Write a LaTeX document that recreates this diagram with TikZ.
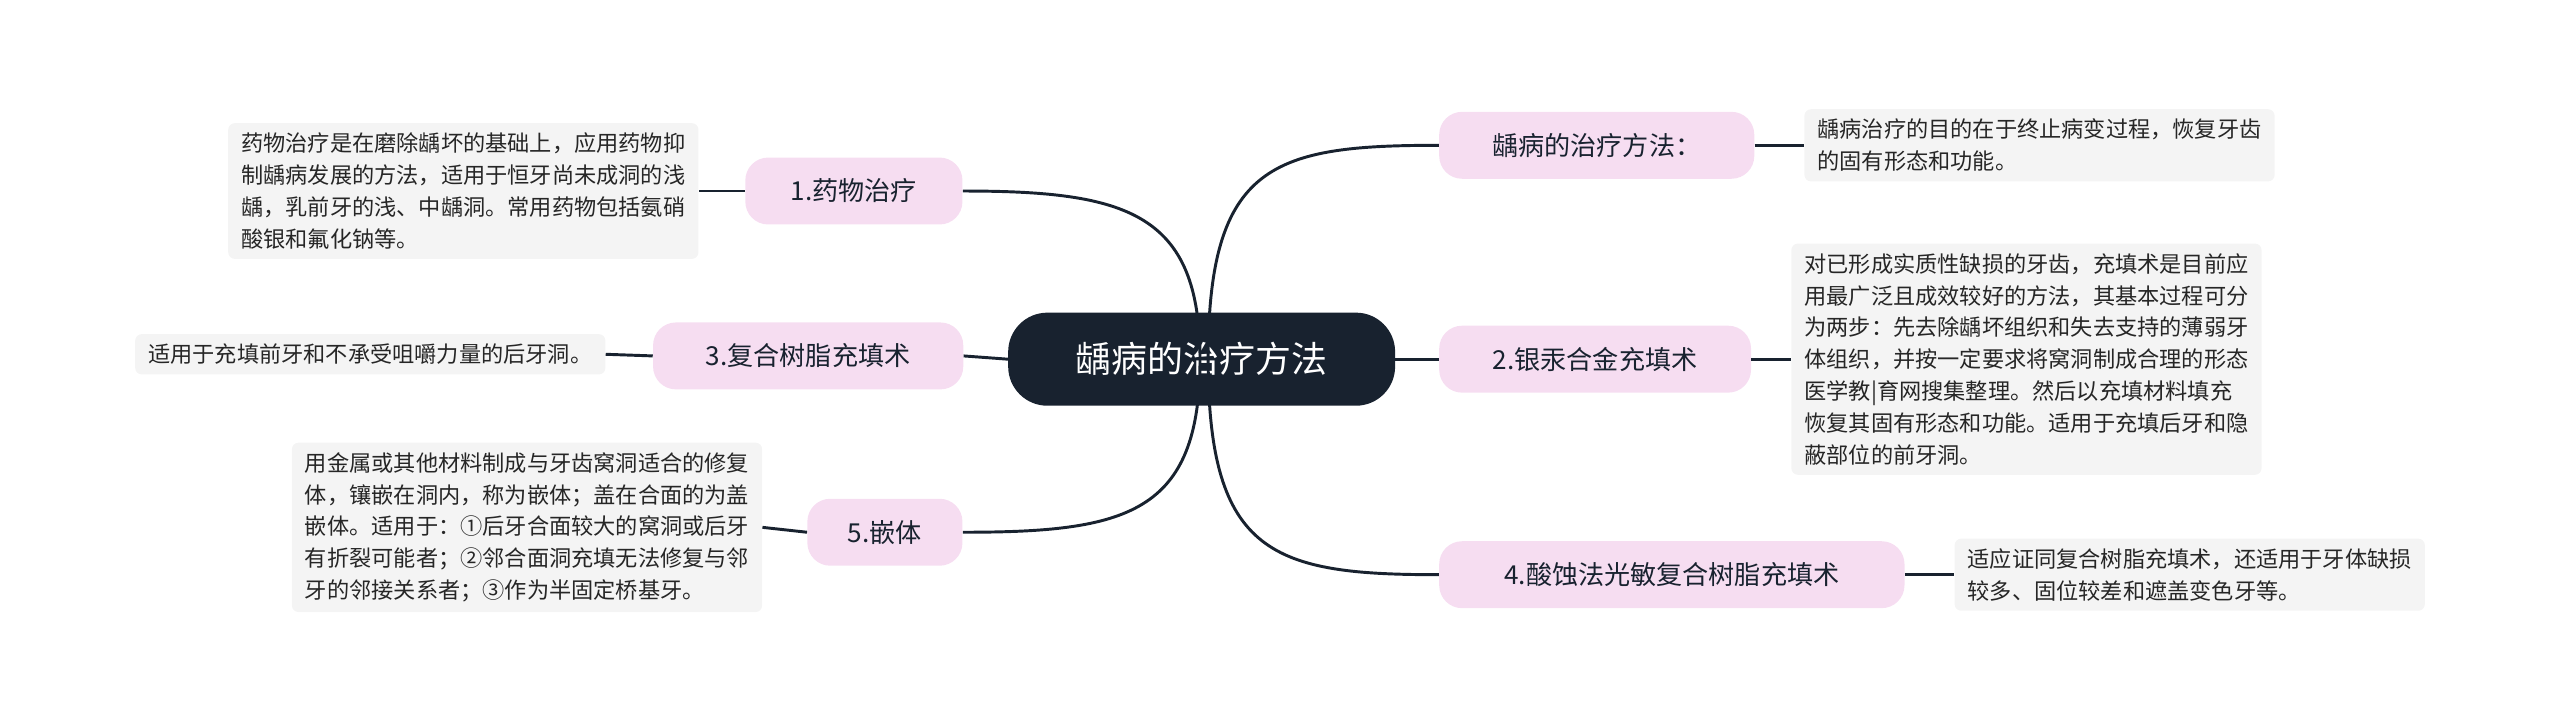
\documentclass[tikz,border=0pt]{standalone}
\usepackage{fontspec}
\setmainfont{Noto Sans CJK SC}
\begin{document}
\begin{tikzpicture}[x=1pt,y=-1pt,
  line/.style={draw=ink,line width=1.8pt},
  pill/.style={fill=pinkf,rounded corners=14pt,minimum height=41pt,inner xsep=12pt,font=\fontsize{16}{20}\selectfont,text=ink},
  desc/.style={fill=boxf,rounded corners=4pt,inner xsep=8pt,inner ysep=6pt,align=left,font=\fontsize{13.6}{19.5}\selectfont,text=black!85}]
\definecolor{ink}{HTML}{18222F}
\definecolor{pinkf}{HTML}{F6DDF1}
\definecolor{boxf}{HTML}{F4F4F4}
\useasboundingbox (0,0) rectangle (1568,441);
\node[fill=ink,rounded corners=24pt,minimum width=237pt,minimum height=57pt,text=white,font=\fontsize{22}{26}\selectfont] (c) at (736,220) {龋病的治疗方法};
% right
\node[pill,minimum width=193pt] (r1) at (978,89) {龋病的治疗方法：};
\node[pill,minimum width=191pt] (r2) at (977,220) {2.银汞合金充填术};
\node[pill,minimum width=285pt] (r3) at (1024,352) {4.酸蚀法光敏复合树脂充填术};
\node[desc,anchor=west] (d1) at (1105,89) {龋病治疗的目的在于终止病变过程，恢复牙齿\\的固有形态和功能。};
\node[desc,anchor=west] (d2) at (1097,220) {对已形成实质性缺损的牙齿，充填术是目前应\\用最广泛且成效较好的方法，其基本过程可分\\为两步：先去除龋坏组织和失去支持的薄弱牙\\体组织，并按一定要求将窝洞制成合理的形态\\医学教|育网搜集整理。然后以充填材料填充\\恢复其固有形态和功能。适用于充填后牙和隐\\蔽部位的前牙洞。};
\node[desc,anchor=west] (d3) at (1197,352) {适应证同复合树脂充填术，还适用于牙体缺损\\较多、固位较差和遮盖变色牙等。};
% left
\node[pill,minimum width=133pt] (l1) at (523,117) {1.药物治疗};
\node[pill,minimum width=190pt] (l2) at (495,218) {3.复合树脂充填术};
\node[pill,minimum width=95pt] (l3) at (542,326) {5.嵌体};
\node[desc,anchor=east] (e1) at (428,117) {药物治疗是在磨除龋坏的基础上，应用药物抑\\制龋病发展的方法，适用于恒牙尚未成洞的浅\\龋，乳前牙的浅、中龋洞。常用药物包括氨硝\\酸银和氟化钠等。};
\node[desc,anchor=east] (e2) at (371,217) {适用于充填前牙和不承受咀嚼力量的后牙洞。};
\node[desc,anchor=east] (e3) at (467,323) {用金属或其他材料制成与牙齿窝洞适合的修复\\体，镶嵌在洞内，称为嵌体；盖在合面的为盖\\嵌体。适用于：①后牙合面较大的窝洞或后牙\\有折裂可能者；②邻合面洞充填无法修复与邻\\牙的邻接关系者；③作为半固定桥基牙。};
% connectors
\coordinate (cr) at (740,220);
\coordinate (cl) at (735,220);
\draw[line] (cr) .. controls (740,100) and (780,89) .. (r1.west);
\draw[line] (c.east) -- (r2.west);
\draw[line] (cr) .. controls (740,340) and (780,352) .. (r3.west);
\draw[line] (cl) .. controls (735,130) and (690,117) .. (l1.east);
\draw[line] (c.west) -- (l2.east);
\draw[line] (cl) .. controls (735,315) and (690,326) .. (l3.east);
\draw[line] (r1.east) -- (d1.west);
\draw[line] (r2.east) -- (d2.west);
\draw[line] (r3.east) -- (d3.west);
\draw[line] (l1.west) -- (e1.east);
\draw[line] (l2.west) -- (e2.east);
\draw[line] (l3.west) -- (e3.east);
\end{tikzpicture}
\end{document}
